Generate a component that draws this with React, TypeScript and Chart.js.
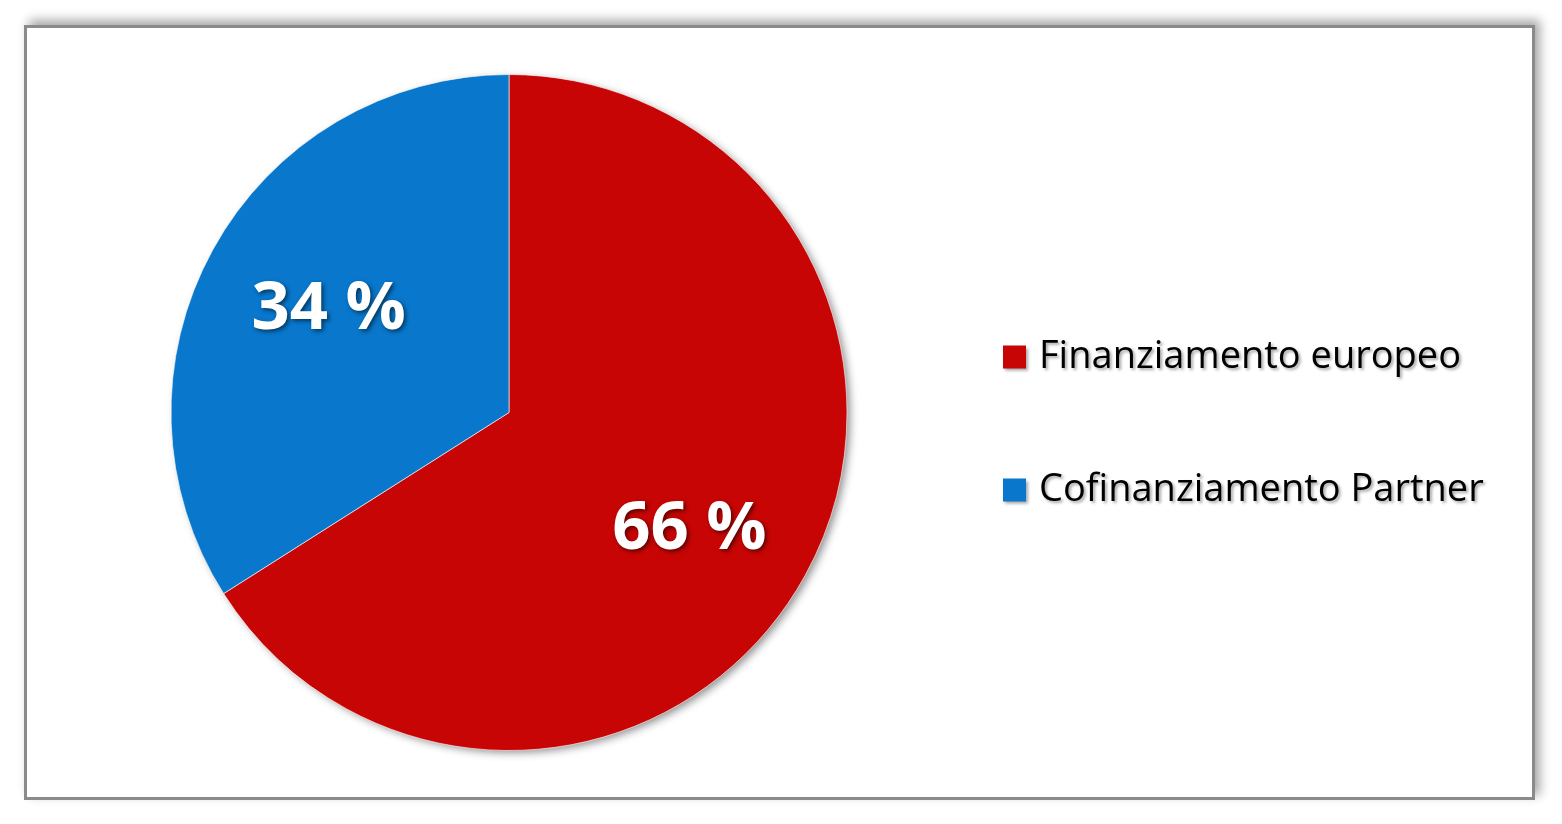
import React, { useEffect, useRef } from "react";
import { Chart, registerables } from "chart.js";

Chart.register(...registerables);

const categories = ["Finanziamento europeo", "Cofinanziamento Partner"];
const values = [66, 34];
const valueLabels = ["66 %", "34 %"];
const colors = ["#C80505", "#0877CC"];

const FONT = "'Open Sans', 'Noto Sans', sans-serif";

const pieShadowPlugin = {
  id: "pieShadow",
  beforeDatasetsDraw(chart: any) {
    const meta = chart.getDatasetMeta(0);
    const arc = meta.data[0];
    if (!arc) return;
    const { x, y, outerRadius } = arc.getProps(["x", "y", "outerRadius"], true);
    const ctx = chart.ctx;
    ctx.save();
    ctx.shadowColor = "rgba(0,0,0,0.45)";
    ctx.shadowBlur = 8;
    ctx.shadowOffsetX = 4;
    ctx.shadowOffsetY = 3;
    ctx.fillStyle = "#ffffff";
    ctx.beginPath();
    ctx.arc(x, y, outerRadius - 1, 0, Math.PI * 2);
    ctx.fill();
    ctx.restore();
  },
};

const valueLabelPlugin = {
  id: "valueLabels",
  afterDatasetsDraw(chart: any) {
    const meta = chart.getDatasetMeta(0);
    const ctx = chart.ctx;
    meta.data.forEach((arc: any, i: number) => {
      const { x, y, startAngle, endAngle, outerRadius } = arc.getProps(
        ["x", "y", "startAngle", "endAngle", "outerRadius"],
        true
      );
      const mid = (startAngle + endAngle) / 2 + 0.045;
      const r = outerRadius * 0.625;
      const lx = x + Math.cos(mid) * r;
      const ly = y + Math.sin(mid) * r + 7;
      ctx.save();
      ctx.font = `bold 67px ${FONT}`;
      ctx.textAlign = "center";
      ctx.textBaseline = "middle";
      ctx.shadowColor = "rgba(0,0,0,0.55)";
      ctx.shadowBlur = 4;
      ctx.shadowOffsetX = 2;
      ctx.shadowOffsetY = 2;
      ctx.fillStyle = "#ffffff";
      ctx.fillText(valueLabels[i], lx, ly);
      ctx.restore();
    });
  },
};

const sideLegendPlugin = {
  id: "sideLegend",
  afterDraw(chart: any) {
    const ctx = chart.ctx;
    const ds = chart.data.datasets[0];
    const labels = chart.data.labels as string[];
    const boxX = 976;
    const firstY = 329;
    const gap = 133;
    const box = 23;
    labels.forEach((label, i) => {
      const cy = firstY + i * gap;
      ctx.save();
      ctx.shadowColor = "rgba(0,0,0,0.35)";
      ctx.shadowBlur = 3;
      ctx.shadowOffsetX = 2;
      ctx.shadowOffsetY = 2;
      ctx.fillStyle = ds.backgroundColor[i];
      ctx.fillRect(boxX, cy - box / 2, box, box);
      ctx.font = `38px ${FONT}`;
      ctx.textAlign = "left";
      ctx.textBaseline = "middle";
      ctx.fillStyle = "#000000";
      ctx.fillText(label, boxX + 36, cy);
      ctx.restore();
    });
  },
};

export default function App() {
  const canvasRef = useRef<HTMLCanvasElement | null>(null);

  useEffect(() => {
    if (!canvasRef.current) return;
    const chart = new Chart(canvasRef.current, {
      type: "pie",
      data: {
        labels: categories,
        datasets: [
          {
            data: values,
            backgroundColor: colors,
            borderColor: "rgba(255,255,255,0.6)",
            borderWidth: 1,
          },
        ],
      },
      options: {
        animation: false,
        responsive: false,
        maintainAspectRatio: false,
        layout: { padding: { left: 143, right: 684, top: 46, bottom: 46 } },
        plugins: {
          legend: { display: false },
          tooltip: { enabled: false },
        },
      },
      plugins: [pieShadowPlugin, valueLabelPlugin, sideLegendPlugin],
    });
    return () => chart.destroy();
  }, []);

  return (
    <div
      style={{
        position: "absolute",
        left: 24,
        top: 25,
        width: 1511,
        height: 775,
        boxSizing: "border-box",
        border: "3px solid #8a8a8a",
        boxShadow: "5px -5px 10px rgba(0,0,0,0.35)",
        background: "#ffffff",
      }}
    >
      <canvas ref={canvasRef} width={1505} height={769} style={{ display: "block" }} />
    </div>
  );
}
